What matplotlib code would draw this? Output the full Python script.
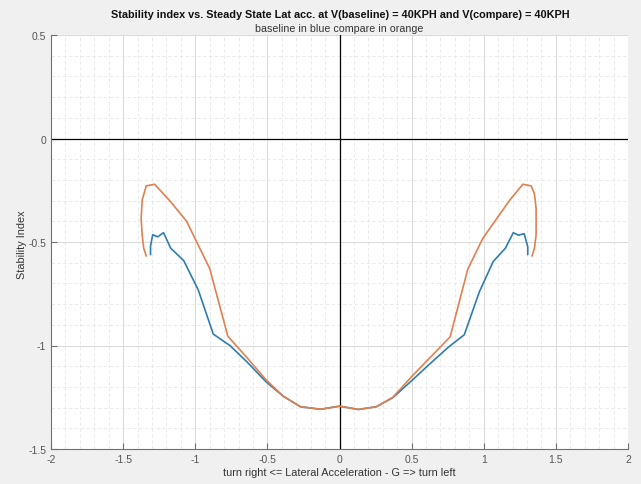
import numpy as np
import matplotlib
matplotlib.use('Agg')
import matplotlib.pyplot as plt
from matplotlib.ticker import MultipleLocator

# baseline (blue) traced from left end, through the bottom, to right end
base_x = [-1.31, -1.31, -1.295, -1.26, -1.22, -1.17, -1.08, -0.98, -0.875, -0.76,
          -0.64, -0.51, -0.39, -0.27, -0.13, 0.0, 0.13, 0.255, 0.37, 0.50,
          0.64, 0.76, 0.865, 0.97, 1.065, 1.15, 1.205, 1.24, 1.28, 1.305, 1.305]
base_y = [-0.56, -0.52, -0.465, -0.475, -0.455, -0.53, -0.59, -0.73, -0.945, -1.0,
          -1.08, -1.175, -1.245, -1.296, -1.308, -1.293, -1.309, -1.296, -1.252, -1.17,
          -1.08, -1.005, -0.948, -0.74, -0.595, -0.53, -0.455, -0.467, -0.46, -0.523, -0.56]

# compare (orange)
comp_x = [-1.34, -1.357, -1.368, -1.375, -1.368, -1.34, -1.282, -1.17, -1.06, -0.90,
          -0.774, -0.64, -0.51, -0.39, -0.27, -0.13, 0.0, 0.13, 0.255, 0.37,
          0.50, 0.64, 0.767, 0.889, 0.993, 1.18, 1.271, 1.329, 1.351, 1.363,
          1.363, 1.351, 1.335]
comp_y = [-0.567, -0.531, -0.467, -0.386, -0.298, -0.229, -0.221, -0.306, -0.40, -0.628,
          -0.955, -1.06, -1.165, -1.245, -1.296, -1.308, -1.293, -1.309, -1.296, -1.25,
          -1.15, -1.05, -0.958, -0.632, -0.483, -0.298, -0.221, -0.229, -0.266, -0.338,
          -0.467, -0.531, -0.567]

plt.rcParams['font.family'] = ['Liberation Sans', 'DejaVu Sans']

fig = plt.figure(figsize=(6.41, 4.85), dpi=100, facecolor='#f0f0f0')
ax = fig.add_axes([51/641, 1 - 450/485, 577/641, 414/485])
ax.set_facecolor('white')

ax.plot(base_x, base_y, color='#2f7cb0', lw=1.2, zorder=3)
ax.plot(comp_x, comp_y, color='#e0804f', lw=1.2, zorder=3)
ax.axvline(0, color='black', lw=0.9, zorder=2)
ax.axhline(0, color='black', lw=0.9, zorder=2)

ax.set_xlim(-2, 2)
ax.set_ylim(-1.5, 0.5)
ax.xaxis.set_major_locator(MultipleLocator(0.5))
ax.yaxis.set_major_locator(MultipleLocator(0.5))
ax.xaxis.set_minor_locator(MultipleLocator(0.1))
ax.yaxis.set_minor_locator(MultipleLocator(0.1))
ax.set_xticklabels([f'{v:g}' for v in ax.get_xticks()])
ax.set_yticklabels([f'{v:g}' for v in ax.get_yticks()])
ax.grid(which='major', color='#d9d9d9', lw=0.7)
ax.grid(which='minor', color='#e6e6e6', lw=0.6, ls=(0, (4, 3)))
ax.set_axisbelow(True)

for s in ['top', 'right']:
    ax.spines[s].set_visible(False)
for s in ['left', 'bottom']:
    ax.spines[s].set_color('#707070')
    ax.spines[s].set_linewidth(0.8)
ax.tick_params(which='both', direction='in', colors='#707070', labelcolor='#555555',
               labelsize=7.5)
ax.tick_params(which='major', length=4)
ax.tick_params(which='minor', length=0)

ax.set_xlabel('turn right <= Lateral Acceleration - G => turn left', fontsize=7.8,
              color='#333333', labelpad=2)
ax.set_ylabel('Stability Index', fontsize=7.8, color='#333333')
ax.yaxis.set_label_coords(-0.041, 0.495)
fig.text(340.5/641, 1 - 15/485, 'Stability index vs. Steady State Lat acc. at V(baseline) = 40KPH and V(compare) = 40KPH',
         ha='center', va='center', fontsize=7.8, fontweight='bold', color='#111111')
fig.text(339/641, 1 - 29.5/485, 'baseline in blue compare in orange',
         ha='center', va='center', fontsize=7.7, color='#333333')

fig.savefig('out.png', dpi=100, facecolor=fig.get_facecolor())
